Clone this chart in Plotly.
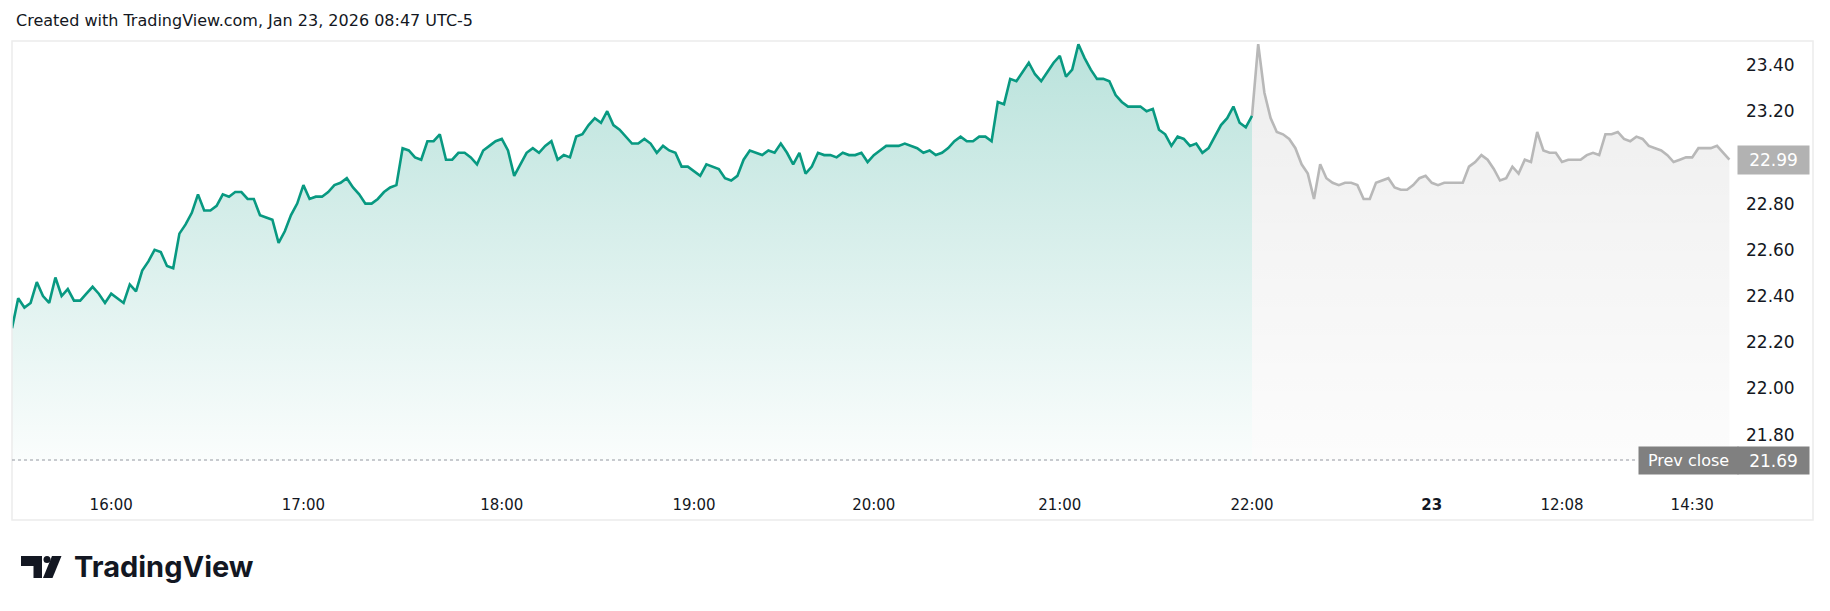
import plotly.graph_objects as go

# ---------------- data ----------------
main_session = [
    22.26, 22.39, 22.35, 22.37, 22.46, 22.40, 22.37, 22.48, 22.40, 22.43,
    22.38, 22.38, 22.41, 22.44, 22.41, 22.37, 22.41, 22.39, 22.37, 22.45,
    22.42, 22.51, 22.55, 22.60, 22.59, 22.53, 22.52, 22.67, 22.71, 22.76,
    22.84, 22.77, 22.77, 22.79, 22.84, 22.83, 22.85, 22.85, 22.82, 22.82,
    22.75, 22.74, 22.73, 22.63, 22.68, 22.75, 22.80, 22.88, 22.82, 22.83,
    22.83, 22.85, 22.88, 22.89, 22.91, 22.87, 22.84, 22.80, 22.80, 22.82,
    22.85, 22.87, 22.88, 23.04, 23.03, 23.00, 22.99, 23.07, 23.07, 23.10,
    22.99, 22.99, 23.02, 23.02, 23.00, 22.97, 23.03, 23.05, 23.07, 23.08,
    23.03, 22.92, 22.97, 23.02, 23.04, 23.02, 23.05, 23.07, 22.99, 23.01,
    23.00, 23.09, 23.10, 23.14, 23.17, 23.15, 23.20, 23.14, 23.12, 23.09,
    23.06, 23.06, 23.08, 23.06, 23.02, 23.05, 23.03, 23.02, 22.96, 22.96,
    22.94, 22.92, 22.97, 22.96, 22.95, 22.91, 22.90, 22.92, 22.99, 23.03,
    23.02, 23.01, 23.03, 23.02, 23.06, 23.02, 22.97, 23.02, 22.93, 22.96,
    23.02, 23.01, 23.01, 23.00, 23.02, 23.01, 23.01, 23.02, 22.98, 23.01,
    23.03, 23.05, 23.05, 23.05, 23.06, 23.05, 23.04, 23.02, 23.03, 23.01,
    23.02, 23.04, 23.07, 23.09, 23.07, 23.07, 23.09, 23.09, 23.07, 23.24,
    23.23, 23.34, 23.33, 23.37, 23.41, 23.36, 23.33, 23.37, 23.41, 23.44,
    23.35, 23.38, 23.49, 23.43, 23.38, 23.34, 23.34, 23.33, 23.27, 23.24,
    23.22, 23.22, 23.22, 23.20, 23.21, 23.12, 23.10, 23.05, 23.09, 23.08,
    23.05, 23.06, 23.02, 23.04, 23.09, 23.14, 23.17, 23.22, 23.15, 23.13,
    23.18,
]
extended_session = [
    23.18,
    23.49, 23.28, 23.17, 23.11, 23.10, 23.08, 23.04, 22.97, 22.93,
    22.82, 22.97, 22.91, 22.89, 22.88, 22.89, 22.89, 22.88, 22.82, 22.82,
    22.89, 22.90, 22.91, 22.87, 22.86, 22.86, 22.88, 22.91, 22.92, 22.89,
    22.88, 22.89, 22.89, 22.89, 22.89, 22.96, 22.98, 23.01, 22.99, 22.95,
    22.90, 22.91, 22.96, 22.93, 22.99, 22.98, 23.11, 23.03, 23.02, 23.02,
    22.98, 22.99, 22.99, 22.99, 23.01, 23.02, 23.01, 23.10, 23.10, 23.11,
    23.08, 23.07, 23.09, 23.08, 23.05, 23.04, 23.03, 23.01, 22.98, 22.99,
    23.00, 23.00, 23.04, 23.04, 23.04, 23.05, 23.02, 22.99,
]
prev_close = 21.69
last_price = 22.99

tick_bars = [16, 47, 79, 110, 139, 169, 200, 229, 250, 271]
tick_labels = ["16:00", "17:00", "18:00", "19:00", "20:00", "21:00", "22:00",
               "<b>23</b>", "12:08", "14:30"]
# 23.00 is hidden behind the last-price label in the reference
price_ticks = [21.80, 22.00, 22.20, 22.40, 22.60, 22.80, 23.20, 23.40]

# ---------------- layout geometry (pixels) ----------------
W, H = 1830, 611
PL, PR, PT, PB = 12, 1731, 41, 461
PX_PER_UNIT = 231.0
REF_VAL, REF_PX = 23.40, 65.0
y_lo = REF_VAL - (PB - REF_PX) / PX_PER_UNIT
y_hi = REF_VAL + (REF_PX - PT) / PX_PER_UNIT
BAR_PX = 6.2
x_hi = (PR - PL) / BAR_PX


def fx(p):
    return (p - PL) / (PR - PL)


def fy(p):
    return (PB - p) / (PB - PT)


FONT = "DejaVu Sans"
TXT = "#131722"

x_main = list(range(len(main_session)))
x_ext = list(range(len(main_session) - 1, len(main_session) - 1 + len(extended_session)))
top_val = max(main_session + extended_session)

fig = go.Figure()
fig.add_trace(go.Scatter(
    x=x_ext, y=extended_session, mode="lines",
    line=dict(color="#b8b8b8", width=2.6),
    fill="tozeroy",
    fillgradient=dict(type="vertical",
                      colorscale=[[0, "rgba(0,0,0,0.012)"], [1, "rgba(0,0,0,0.07)"]],
                      start=prev_close, stop=top_val),
    hoverinfo="skip", showlegend=False,
))
fig.add_trace(go.Scatter(
    x=x_main, y=main_session, mode="lines",
    line=dict(color="#089981", width=2.6),
    fill="tozeroy",
    fillgradient=dict(type="vertical",
                      colorscale=[[0, "rgba(8,153,129,0.02)"], [1, "rgba(8,153,129,0.28)"]],
                      start=prev_close, stop=top_val),
    hoverinfo="skip", showlegend=False,
))

shapes = [
    # outer frame
    dict(type="rect", xref="paper", yref="paper", x0=fx(12), x1=fx(1813), y0=fy(41), y1=fy(520),
         line=dict(color="#ececec", width=1.5), fillcolor="rgba(0,0,0,0)", layer="above"),
    # previous close dotted line
    dict(type="line", xref="paper", yref="y", x0=0, x1=fx(1637), y0=prev_close, y1=prev_close,
         line=dict(color="#9598a1", width=1, dash="dot"), layer="above"),
]


def P(pts):
    return "M " + " L ".join(f"{fx(a):.6f},{fy(b):.6f}" for a, b in pts) + " Z"


# TradingView logo glyph
LOGO = "#131722"
shapes += [
    dict(type="path", xref="paper", yref="paper",
         path=P([(21, 556), (42, 556), (42, 578), (33.5, 578), (33.5, 566), (21, 566)]),
         fillcolor=LOGO, line=dict(width=0)),
    dict(type="circle", xref="paper", yref="paper", x0=fx(43.5), x1=fx(50.5), y0=fy(563), y1=fy(556),
         fillcolor=LOGO, line=dict(width=0)),
    dict(type="path", xref="paper", yref="paper",
         path=P([(52, 556), (61.5, 556), (52.5, 578), (43, 578)]),
         fillcolor=LOGO, line=dict(width=0)),
]

annotations = [
    dict(text="Created with TradingView.com, Jan 23, 2026 08:47 UTC-5", xref="paper", yref="paper",
         x=fx(14), y=fy(21), xanchor="left", yanchor="middle", showarrow=False,
         font=dict(family=FONT, size=16, color=TXT)),
    dict(text="TradingView", xref="paper", yref="paper", x=fx(72), y=fy(566), xanchor="left",
         yanchor="middle", showarrow=False, font=dict(family="Inter", size=29, color=TXT, weight=700)),
    # last price label
    dict(text=f"{last_price:.2f}", xref="paper", yref="y", x=fx(1737), y=last_price,
         xanchor="left", yanchor="middle", showarrow=False, width=69, height=26,
         bgcolor="#b2b2b2", font=dict(family=FONT, size=17, color="white"), align="center"),
    # previous close labels
    dict(text="Prev close", xref="paper", yref="y", x=fx(1638), y=prev_close,
         xanchor="left", yanchor="middle", showarrow=False, width=97, height=25,
         bgcolor="#808080", font=dict(family=FONT, size=16, color="white"), align="center"),
    dict(text=f"{prev_close:.2f}", xref="paper", yref="y", x=fx(1737), y=prev_close,
         xanchor="left", yanchor="middle", showarrow=False, width=69, height=25,
         bgcolor="#808080", font=dict(family=FONT, size=17, color="white"), align="center"),
]

fig.update_layout(
    width=W, height=H, autosize=False,
    margin=dict(l=PL, r=W - PR, t=PT, b=H - PB, pad=0),
    paper_bgcolor="white", plot_bgcolor="white",
    showlegend=False,
    shapes=shapes, annotations=annotations,
    xaxis=dict(range=[0, x_hi], tickmode="array", tickvals=tick_bars, ticktext=tick_labels,
               showgrid=False, zeroline=False, showline=False, ticks="",
               tickfont=dict(family=FONT, size=15, color=TXT), ticklabelstandoff=33,
               fixedrange=True),
    yaxis=dict(range=[y_lo, y_hi], side="right", tickmode="array", tickvals=price_ticks,
               ticktext=[f"{v:.2f}" for v in price_ticks],
               showgrid=False, zeroline=False, showline=False, ticks="",
               tickfont=dict(family=FONT, size=17, color=TXT), ticklabelstandoff=14,
               fixedrange=True),
)

fig.write_html("out.html", config={"displayModeBar": False})

# remove the browser's default page margin so the figure sits at the window origin
with open("out.html", "r", encoding="utf-8") as fh:
    html = fh.read()
html = html.replace("<body>", '<body style="margin:0;overflow:hidden">', 1)
with open("out.html", "w", encoding="utf-8") as fh:
    fh.write(html)
